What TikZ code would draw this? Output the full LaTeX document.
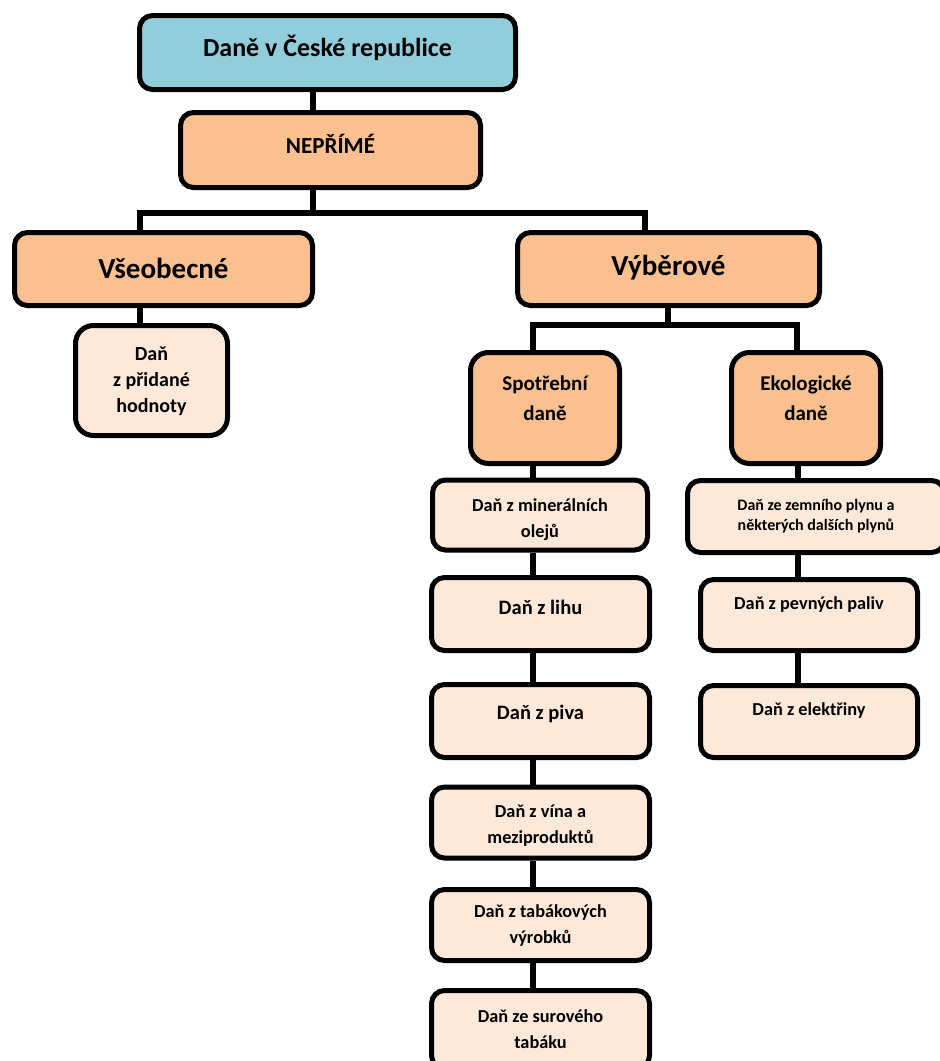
\documentclass[tikz,border=0pt]{standalone}
\usepackage{fontspec}
\setmainfont{Carlito}
\newcommand{\fsz}[2]{\fontsize{#1}{#2}\selectfont\bfseries}
\definecolor{blueC}{RGB}{146,205,220}
\definecolor{orangeC}{RGB}{250,192,144}
\definecolor{peachC}{RGB}{253,233,217}
\begin{document}
\begin{tikzpicture}[x=1pt,y=-1pt,
  bx/.style={draw=black, line width=5pt, rounded corners=13pt, inner sep=0pt},
  tx/.style={align=center, inner sep=0pt},
  conn/.style={draw=black, line width=5.5pt, line join=miter}]
\fill[white] (0,0) rectangle (940,1061);
\useasboundingbox (0,0) rectangle (940,1061);
% level 0-1
\node[bx, fill=blueC, minimum width=376pt, minimum height=74pt,
  label={[tx, yshift=5pt, font=\fsz{26}{30}]center:Daně v České republice}] (title) at (327.5,52.5) {};
\node[bx, fill=orangeC, minimum width=300pt, minimum height=75pt,
  label={[tx, yshift=6pt, font=\fsz{23}{27}]center:NEPŘÍMÉ}] (nep) at (330.5,150) {};
% level 2
\node[bx, fill=orangeC, minimum width=298pt, minimum height=73pt,
  label={[tx, yshift=1pt, font=\fsz{29}{33}]center:Všeobecné}] (vseo) at (163.5,269) {};
\node[bx, fill=orangeC, minimum width=302pt, minimum height=73pt,
  label={[tx, yshift=1pt, font=\fsz{29}{33}]center:Výběrové}] (vyber) at (668.5,269) {};
% level 3
\node[bx, rounded corners=18pt, fill=peachC, minimum width=152pt, minimum height=110pt,
  label={[tx, yshift=-1pt, font=\fsz{20}{26}]center:Daň\\z přidané\\hodnoty}] (prid) at (151.5,380.5) {};
\node[bx, rounded corners=18pt, fill=orangeC, minimum width=149pt, minimum height=111pt,
  label={[tx, yshift=10pt, font=\fsz{21}{30}]center:Spotřební\\daně}] (spot) at (545,408) {};
\node[bx, rounded corners=18pt, fill=orangeC, minimum width=149pt, minimum height=111pt,
  label={[tx, yshift=10pt, font=\fsz{21}{30}]center:Ekologické\\daně}] (ekol) at (806,408) {};
% left column
\node[bx, fill=peachC, minimum width=215pt, minimum height=70pt,
  label={[tx, yshift=-5pt, font=\fsz{18.3}{26}]center:Daň z minerálních\\olejů}] (miner) at (540,515) {};
\node[bx, fill=peachC, minimum width=218pt, minimum height=73pt,
  label={[tx, yshift=7pt, font=\fsz{20.5}{24}]center:Daň z lihu}] (lihu) at (540.5,614) {};
\node[bx, fill=peachC, minimum width=218pt, minimum height=73pt,
  label={[tx, yshift=7pt, font=\fsz{20.5}{24}]center:Daň z piva}] (piva) at (540.5,721) {};
\node[bx, fill=peachC, minimum width=218pt, minimum height=71pt,
  label={[tx, yshift=-3pt, font=\fsz{18.3}{26}]center:Daň z vína a\\meziproduktů}] (vino) at (540.5,822.5) {};
\node[bx, fill=peachC, minimum width=218pt, minimum height=71pt,
  label={[tx, yshift=-1pt, font=\fsz{18.3}{26}]center:Daň z tabákových\\výrobků}] (tabak) at (540.5,925) {};
\node[bx, fill=peachC, minimum width=218pt, minimum height=78pt,
  label={[tx, yshift=0pt, font=\fsz{18.3}{26}]center:Daň ze surového\\tabáku}] (surovy) at (540.5,1029.5) {};
% right column
\node[bx, fill=peachC, minimum width=257pt, minimum height=72pt,
  label={[tx, yshift=0pt, font=\fsz{16}{20}]center:Daň ze zemního plynu a\\některých dalších plynů}] (gas) at (816,516.5) {};
\node[bx, fill=peachC, minimum width=217pt, minimum height=71pt,
  label={[tx, yshift=10pt, font=\fsz{18.3}{24}]center:Daň z pevných paliv}] (pevne) at (809,615) {};
\node[bx, fill=peachC, minimum width=217pt, minimum height=72pt,
  label={[tx, yshift=11pt, font=\fsz{18.3}{24}]center:Daň z elektřiny}] (elektr) at (809,721.5) {};
% connector coordinates
\coordinate (j1) at (313,213);
\coordinate (l1) at (140,213);
\coordinate (r1) at (645,213);
\coordinate (j2) at (668,325);
\coordinate (l2) at (533,325);
\coordinate (r2) at (797,325);
\coordinate (cl) at (533,0);
\coordinate (cr) at (798,0);
% connectors
\draw[conn] (title.south -| j1) -- (nep.north -| j1);
\draw[conn] (nep.south -| j1) -- (j1);
\draw[conn] (vseo.north -| l1) -- (l1) -- (r1) -- (vyber.north -| r1);
\draw[conn] (vseo.south -| l1) -- (prid.north -| l1);
\draw[conn] (vyber.south -| j2) -- (j2);
\draw[conn] (spot.north -| l2) -- (l2) -- (r2) -- (ekol.north -| r2);
\draw[conn] (spot.south -| cl) -- (miner.north -| cl);
\draw[conn] (miner.south -| cl) -- (lihu.north -| cl);
\draw[conn] (lihu.south -| cl) -- (piva.north -| cl);
\draw[conn] (piva.south -| cl) -- (vino.north -| cl);
\draw[conn] (vino.south -| cl) -- (tabak.north -| cl);
\draw[conn] (tabak.south -| cl) -- (surovy.north -| cl);
\draw[conn] (ekol.south -| cr) -- (gas.north -| cr);
\draw[conn] (gas.south -| cr) -- (pevne.north -| cr);
\draw[conn] (pevne.south -| cr) -- (elektr.north -| cr);
\end{tikzpicture}
\end{document}
